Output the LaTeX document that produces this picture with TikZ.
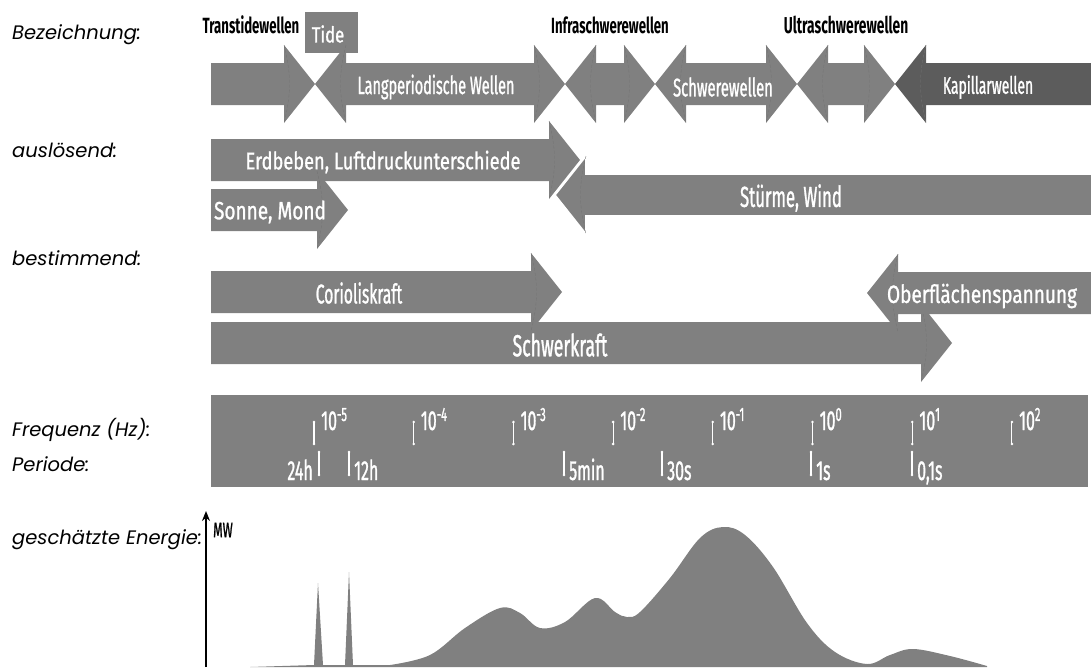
\documentclass[tikz,border=0pt]{standalone}
\usepackage{fontspec}
\usepackage{tikz}
\usetikzlibrary{calc}
\usetikzlibrary{arrows.meta}
\setmainfont{Fira Sans}
\newfontfamily\wavefont{Fira Sans}[FakeStretch=0.58,FakeBold=1]
\newfontfamily\widefont{Fira Sans}[FakeStretch=0.76,FakeBold=1]
\newfontfamily\namefont{Fira Sans}[FakeStretch=0.6]
\newfontfamily\rowfont{Poppins}
\definecolor{wavegray}{gray}{0.5}
\definecolor{kapgray}{gray}{0.36}
\newcommand{\tikzbarhalf}{21}
\newcommand{\tikzheadhalf}{39}
\newcommand{\tikzheadlen}{31}
\newcommand{\tikzfreqstep}{99.7}
\tikzstyle{wavebody}=[fill=wavegray]
\tikzstyle{kapbody}=[fill=kapgray]
\tikzstyle{stormbody}=[fill=wavegray,draw=white,line width=1.6pt,line join=miter]
\tikzstyle{notchline}=[draw=black!55,densely dashed,line width=0.35pt]
\tikzstyle{rowlabel}=[anchor=west,inner sep=0pt,font=\rowfont\itshape\fontsize{19.5}{19.5}\selectfont]
\tikzstyle{freqtick}=[draw=white,line width=1.1pt,line cap=round]
\tikzset{wavelabel/.style={text=white,inner sep=0pt,font=\wavefont\fontsize{#1}{#1}\selectfont},
  wavelabel/.default=25,
  widelabel/.style={text=white,inner sep=0pt,font=\widefont\fontsize{#1}{#1}\selectfont},
  widelabel/.default=25,
  namelabel/.style={text=black,inner sep=0pt,font=\namefont\bfseries\fontsize{#1}{#1}\selectfont},
  namelabel/.default=22}
% right arrow: tail x, tip x, centre y
\newcommand{\tikzrarrow}[4][wavebody]{%
  \path[#1] (#2,{#4-\tikzbarhalf}) -- ({#3-\tikzheadlen},{#4-\tikzbarhalf})
    -- ({#3-\tikzheadlen},{#4-\tikzheadhalf}) -- (#3,#4)
    -- ({#3-\tikzheadlen},{#4+\tikzheadhalf}) -- ({#3-\tikzheadlen},{#4+\tikzbarhalf})
    -- (#2,{#4+\tikzbarhalf}) -- cycle;
  \path[notchline] ({#3-\tikzheadlen},{#4-\tikzheadhalf}) to[bend left=14] ({#3-\tikzheadlen},{#4+\tikzheadhalf});
}
% left arrow: tip x, tail x, centre y
\newcommand{\tikzlarrow}[4][wavebody]{%
  \path[#1] (#3,{#4-\tikzbarhalf}) -- ({#2+\tikzheadlen},{#4-\tikzbarhalf})
    -- ({#2+\tikzheadlen},{#4-\tikzheadhalf}) -- (#2,#4)
    -- ({#2+\tikzheadlen},{#4+\tikzheadhalf}) -- ({#2+\tikzheadlen},{#4+\tikzbarhalf})
    -- (#3,{#4+\tikzbarhalf}) -- cycle;
  \path[notchline] ({#2+\tikzheadlen},{#4-\tikzheadhalf}) to[bend right=14] ({#2+\tikzheadlen},{#4+\tikzheadhalf});
}
% double arrow: left tip x, right tip x, centre y
\newcommand{\tikzdarrow}[4][wavebody]{%
  \path[#1] (#2,#4) -- ({#2+\tikzheadlen},{#4-\tikzheadhalf}) -- ({#2+\tikzheadlen},{#4-\tikzbarhalf})
    -- ({#3-\tikzheadlen},{#4-\tikzbarhalf}) -- ({#3-\tikzheadlen},{#4-\tikzheadhalf}) -- (#3,#4)
    -- ({#3-\tikzheadlen},{#4+\tikzheadhalf}) -- ({#3-\tikzheadlen},{#4+\tikzbarhalf})
    -- ({#2+\tikzheadlen},{#4+\tikzbarhalf}) -- ({#2+\tikzheadlen},{#4+\tikzheadhalf}) -- cycle;
  \path[notchline] ({#2+\tikzheadlen},{#4-\tikzheadhalf}) to[bend right=14] ({#2+\tikzheadlen},{#4+\tikzheadhalf});
  \path[notchline] ({#3-\tikzheadlen},{#4-\tikzheadhalf}) to[bend left=14] ({#3-\tikzheadlen},{#4+\tikzheadhalf});
}

\begin{document}
\begin{tikzpicture}[x=1pt,y=-1pt]
  \useasboundingbox (0,0) rectangle (1091,667);
  % row labels
  \node[rowlabel] (r0) at (12,35) {Bezeichnung:};
  \node[rowlabel] (r1) at (12,150) {auslösend:};
  \node[rowlabel] (r2) at (12,258) {bestimmend:};
  \node[rowlabel] (r3) at (12,430) {Frequenz (Hz):};
  \node[rowlabel] (r4) at (12,464) {Periode:};
  \node[rowlabel] (r5) at (12,540) {geschätzte Energie:};
  % Bezeichnung
  \fill[wavebody] (305,12) rectangle (358,53);
  \tikzrarrow{211}{315}{84}
  \tikzdarrow{315}{565}{84}
  \tikzdarrow{565}{655}{84}
  \tikzdarrow{655}{797}{84}
  \tikzdarrow{797}{895}{84}
  \tikzlarrow[kapbody]{895}{1092}{84}
  \node[namelabel] (n0) at (251,25) {Transtidewellen};
  \node[widelabel=22] (n1) at (328,34) {Tide};
  \node[wavelabel=25] (n2) at (436,87) {Langperiodische Wellen};
  \node[namelabel] (n3) at (610,25) {Infraschwerewellen};
  \node[wavelabel=25.5] (n4) at (723,87) {Schwerewellen};
  \node[namelabel=23] (n5) at (846,25) {Ultraschwerewellen};
  \node[wavelabel=24] (n6) at (988,87) {Kapillarwellen};
  % auslösend
  \tikzrarrow{211}{580}{160}
  \tikzrarrow{211}{348}{210}
  \tikzlarrow[stormbody]{555}{1093}{195}
  \node[widelabel=24] (a0) at (383,162) {Erdbeben, Luftdruckunterschiede};
  \node[widelabel=25] (a1) at (270,212) {Sonne, Mond};
  \node[wavelabel=29] (a2) at (791,198) {Stürme, Wind};
  % bestimmend
  \tikzrarrow{211}{952}{343}
  \tikzrarrow{211}{562}{292}
  \tikzlarrow{867}{1092}{293}
  \node[wavelabel=27] (b0) at (359,293) {Corioliskraft};
  \node[wavelabel=30.5] (b1) at (560,345) {Schwerkraft};
  \node[widelabel=25] (b2) at (982,296) {Oberflächenspannung};
  % Frequenz / Periode
  \fill[wavebody] (211,395) rectangle (1088,487);
  \foreach \e [count=\i from 0] in {-5,-4,-3,-2,-1,0,1,2}
  {
    \draw[freqtick] ({314+\tikzfreqstep*\i},422) -- ({314+\tikzfreqstep*\i},444);
    \fill[white] ({314+\tikzfreqstep*\i},422) circle (1.4) ({314+\tikzfreqstep*\i},444) circle (1.4);
    \node[wavelabel=27.5,anchor=base west] (f\i) at ({321+\tikzfreqstep*\i},430) {10\textsuperscript{\e}};
  }
  \foreach \x/\t/\s/\o [count=\i] in {319/24h/east/-6,349/12h/west/5,564/5min/west/5,662/30s/west/5,811/1s/west/5,912/{0,1s}/west/5}
  {
    \draw[freqtick] (\x,452) -- (\x,475);
    \fill[white] (\x,452) circle (1.4) (\x,475) circle (1.4);
    \node[wavelabel=27.5,anchor=base \s] (t\i) at (\x+\o,480) {\t};
  }
  % geschätzte Energie
  \fill[wavebody] (250,667) -- (314,665) -- (318,583) -- (323,665) -- (345,665) -- (349,572) -- (353,665) -- (390,665)
    -- plot[smooth,tension=0.6] coordinates {(390,665) (430,655) (465,628) (500,608) (520,613) (540,628) (565,622)
      (595,598) (615,612) (627,617) (640,612) (670,578) (700,538) (723,527) (745,535) (773,567) (807,623)
      (835,652) (867,664) (890,655) (913,649) (950,656) (987,666)} -- (987,667) -- cycle;
  \coordinate (e0) at (206,667);
  \coordinate (e1) at (206,511);
  \draw[-{Stealth[length=10pt,width=8pt]},line width=1.6pt] (e0) -- (e1);
  \node[anchor=west,inner sep=0pt,text=black,font=\wavefont\fontsize{21}{21}\selectfont] (mw) at (213,530) {MW};
\end{tikzpicture}
\end{document}
